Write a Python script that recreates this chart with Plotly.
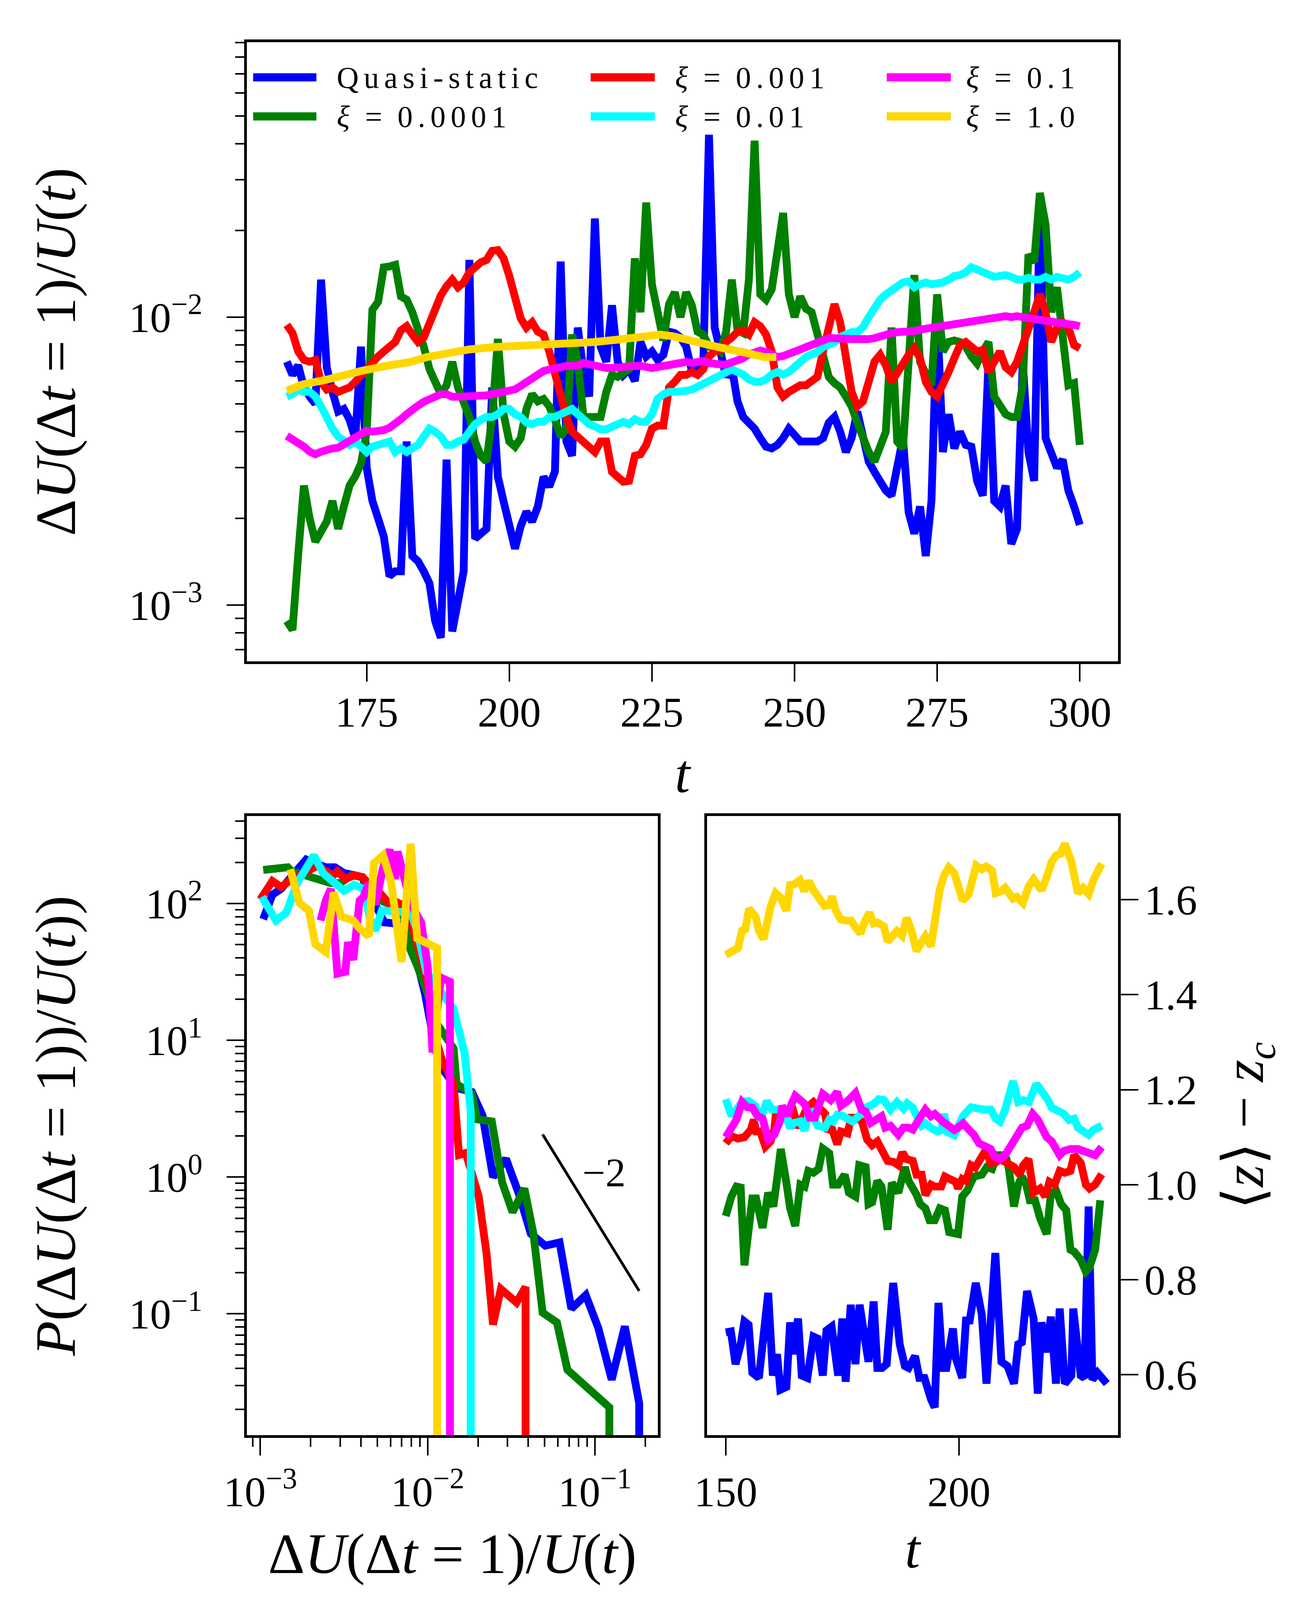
import math

import plotly.graph_objects as go

# ---------------------------------------------------------------
# datos
# ---------------------------------------------------------------
COLORES = {
    "qs": "#0000ff",
    "1e-4": "#008000",
    "1e-3": "#ff0000",
    "1e-2": "#00ffff",
    "1e-1": "#ff00ff",
    "1e0": "#ffd700",
}
ORDEN = ["qs", "1e-4", "1e-3", "1e-2", "1e-1", "1e0"]

# panel superior: dU(dt=1)/U(t) vs t
T_TOP = list(range(161, 301))

DU_QS = [
    7.0e-3, 6.3e-3, 6.8e-3, 5.7e-3, 5.3e-3, 5.0e-3, 1.35e-2, 6.7e-3, 5.5e-3, 4.7e-3,
    4.8e-3, 4.4e-3, 3.8e-3, 7.9e-3, 3.0e-3, 2.3e-3, 2.0e-3, 1.73e-3, 1.26e-3, 1.31e-3,
    1.31e-3, 3.7e-3, 1.48e-3, 1.42e-3, 1.31e-3, 1.19e-3, 8.8e-4, 7.7e-4, 3.2e-3, 8.1e-4,
    1.03e-3, 1.31e-3, 1.58e-2, 1.70e-3, 1.77e-3, 1.84e-3, 5.7e-3, 2.79e-3, 2.29e-3, 1.95e-3,
    1.57e-3, 1.88e-3, 2.11e-3, 1.95e-3, 2.20e-3, 2.79e-3, 2.58e-3, 2.91e-3, 1.56e-2, 3.7e-3,
    3.3e-3, 9.2e-3, 6.5e-3, 5.3e-3, 2.2e-2, 7.9e-3, 7.0e-3, 1.1e-2, 7.0e-3, 6.3e-3,
    6.6e-3, 6.0e-3, 8.2e-3, 7.3e-3, 7.6e-3, 7.1e-3, 7.4e-3, 8.9e-3, 8.8e-3, 8.5e-3,
    7.9e-3, 6.5e-3, 6.6e-3, 6.8e-3, 4.3e-2, 9.2e-3, 7.6e-3, 6.2e-3, 6.7e-3, 5.1e-3,
    4.5e-3, 4.3e-3, 4.1e-3, 3.8e-3, 3.55e-3, 3.5e-3, 3.6e-3, 3.8e-3, 4.1e-3, 3.9e-3,
    3.7e-3, 3.7e-3, 3.7e-3, 3.7e-3, 3.8e-3, 4.3e-3, 4.5e-3, 4.0e-3, 3.4e-3, 3.8e-3,
    4.7e-3, 3.7e-3, 3.15e-3, 2.9e-3, 2.7e-3, 2.5e-3, 2.4e-3, 3.0e-3, 3.8e-3, 2.1e-3,
    1.77e-3, 2.2e-3, 1.48e-3, 2.3e-3, 1.04e-2, 3.4e-3, 4.6e-3, 3.5e-3, 4.0e-3, 3.6e-3,
    3.55e-3, 2.7e-3, 2.4e-3, 7.0e-3, 2.3e-3, 2.2e-3, 2.6e-3, 1.63e-3, 1.84e-3, 7.0e-3,
    3.4e-3, 2.7e-3, 2.4e-2, 3.8e-3, 3.4e-3, 3.0e-3, 3.2e-3, 2.5e-3, 2.2e-3, 1.9e-3,
]
DU_1E4 = [
    8.8e-4, 8.2e-4, 1.5e-3, 2.6e-3, 2.0e-3, 1.66e-3, 1.8e-3, 1.95e-3, 2.3e-3, 1.84e-3,
    2.2e-3, 2.6e-3, 2.8e-3, 3.1e-3, 4.0e-3, 1.06e-2, 1.13e-2, 1.49e-2, 1.50e-2, 1.52e-2,
    1.18e-2, 1.15e-2, 1.04e-2, 9.2e-3, 7.9e-3, 6.6e-3, 6.0e-3, 5.4e-3, 5.8e-3, 7.0e-3,
    5.7e-3, 5.1e-3, 4.5e-3, 3.7e-3, 3.3e-3, 3.15e-3, 4.5e-3, 8.4e-3, 4.6e-3, 3.7e-3,
    3.55e-3, 3.8e-3, 4.8e-3, 5.4e-3, 5.1e-3, 5.2e-3, 4.9e-3, 4.4e-3, 3.85e-3, 4.1e-3,
    8.7e-3, 7.0e-3, 4.5e-3, 4.5e-3, 4.5e-3, 4.5e-3, 5.5e-3, 6.3e-3, 6.2e-3, 6.45e-3,
    6.6e-3, 1.6e-2, 1.04e-2, 2.5e-2, 1.3e-2, 1.04e-2, 8.3e-3, 1.11e-2, 1.22e-2, 1.0e-2,
    1.22e-2, 1.1e-2, 8.9e-3, 8.7e-3, 7.9e-3, 7.9e-3, 7.6e-3, 8.9e-3, 1.35e-2, 9.0e-3,
    8.8e-3, 1.35e-2, 4.1e-2, 1.2e-2, 1.15e-2, 1.25e-2, 1.65e-2, 2.3e-2, 1.2e-2, 1.0e-2,
    1.18e-2, 1.07e-2, 1.04e-2, 8.8e-3, 7.3e-3, 6.2e-3, 5.9e-3, 5.7e-3, 5.3e-3, 4.9e-3,
    4.3e-3, 3.8e-3, 3.4e-3, 3.15e-3, 3.5e-3, 4.0e-3, 9.2e-3, 3.7e-3, 3.5e-3, 7.0e-3,
    1.4e-2, 7.0e-3, 6.3e-3, 5.8e-3, 1.2e-2, 7.6e-3, 8.2e-3, 8.3e-3, 8.2e-3, 7.9e-3,
    7.3e-3, 6.9e-3, 7.6e-3, 8.2e-3, 5.3e-3, 4.9e-3, 4.6e-3, 4.5e-3, 4.5e-3, 5.8e-3,
    1.65e-2, 1.55e-2, 2.7e-2, 2.1e-2, 1.04e-2, 1.27e-2, 8.9e-3, 5.8e-3, 5.9e-3, 3.6e-3,
]
DU_1E3 = [
    9.4e-3, 8.8e-3, 7.6e-3, 7.1e-3, 7.0e-3, 7.1e-3, 5.96e-3, 5.6e-3, 5.7e-3, 5.5e-3,
    5.6e-3, 5.7e-3, 5.96e-3, 6.3e-3, 6.5e-3, 7.0e-3, 7.3e-3, 7.6e-3, 7.9e-3, 8.2e-3,
    9.0e-3, 9.3e-3, 8.7e-3, 8.2e-3, 8.5e-3, 9.6e-3, 1.08e-2, 1.19e-2, 1.28e-2, 1.35e-2,
    1.27e-2, 1.32e-2, 1.43e-2, 1.50e-2, 1.55e-2, 1.58e-2, 1.70e-2, 1.71e-2, 1.6e-2, 1.39e-2,
    1.17e-2, 9.9e-3, 9.2e-3, 9.6e-3, 8.9e-3, 8.7e-3, 7.6e-3, 6.3e-3, 5.5e-3, 4.5e-3,
    4.0e-3, 3.85e-3, 3.7e-3, 3.55e-3, 3.4e-3, 3.7e-3, 3.7e-3, 2.9e-3, 2.8e-3, 2.68e-3,
    2.7e-3, 3.3e-3, 3.34e-3, 3.6e-3, 4.1e-3, 4.2e-3, 4.2e-3, 5.7e-3, 5.96e-3, 6.3e-3,
    6.3e-3, 6.45e-3, 6.3e-3, 6.6e-3, 7.3e-3, 7.6e-3, 7.7e-3, 8.2e-3, 8.5e-3, 8.9e-3,
    9.0e-3, 8.7e-3, 9.6e-3, 9.3e-3, 8.7e-3, 7.6e-3, 5.7e-3, 5.3e-3, 5.5e-3, 5.7e-3,
    5.8e-3, 5.8e-3, 5.96e-3, 6.2e-3, 7.6e-3, 9.2e-3, 1.11e-2, 9.6e-3, 7.3e-3, 5.5e-3,
    4.9e-3, 5.1e-3, 5.96e-3, 7.0e-3, 7.4e-3, 6.8e-3, 5.96e-3, 6.45e-3, 7.0e-3, 7.4e-3,
    7.8e-3, 7.2e-3, 5.96e-3, 5.5e-3, 5.3e-3, 5.96e-3, 6.45e-3, 7.2e-3, 8.0e-3, 8.2e-3,
    7.9e-3, 7.6e-3, 7.7e-3, 6.45e-3, 7.0e-3, 7.6e-3, 6.7e-3, 6.45e-3, 7.0e-3, 7.9e-3,
    8.9e-3, 1.04e-2, 1.2e-2, 1.04e-2, 8.2e-3, 9.2e-3, 9.6e-3, 9.2e-3, 8.0e-3, 7.8e-3,
]
DU_1E2 = [
    5.3e-3, 5.4e-3, 5.6e-3, 5.5e-3, 5.5e-3, 5.3e-3, 4.9e-3, 4.4e-3, 4.1e-3, 3.85e-3,
    3.7e-3, 3.6e-3, 3.7e-3, 3.55e-3, 3.4e-3, 3.55e-3, 3.6e-3, 3.7e-3, 3.7e-3, 3.4e-3,
    3.5e-3, 3.4e-3, 3.5e-3, 3.6e-3, 3.85e-3, 4.1e-3, 4.0e-3, 3.85e-3, 3.6e-3, 3.6e-3,
    3.7e-3, 3.75e-3, 4.0e-3, 4.25e-3, 4.4e-3, 4.5e-3, 4.5e-3, 4.6e-3, 4.8e-3, 4.8e-3,
    4.6e-3, 4.5e-3, 4.3e-3, 4.25e-3, 4.33e-3, 4.33e-3, 4.5e-3, 4.5e-3, 4.6e-3, 4.7e-3,
    4.8e-3, 4.6e-3, 4.4e-3, 4.25e-3, 4.17e-3, 4.08e-3, 4.08e-3, 4.17e-3, 4.25e-3, 4.33e-3,
    4.25e-3, 4.42e-3, 4.33e-3, 4.33e-3, 4.6e-3, 5.2e-3, 5.4e-3, 5.5e-3, 5.5e-3, 5.5e-3,
    5.55e-3, 5.6e-3, 5.73e-3, 5.84e-3, 5.96e-3, 6.08e-3, 6.2e-3, 6.45e-3, 6.58e-3, 6.45e-3,
    6.32e-3, 6.08e-3, 5.96e-3, 5.96e-3, 6.08e-3, 6.32e-3, 6.45e-3, 6.32e-3, 6.45e-3, 6.71e-3,
    6.99e-3, 7.27e-3, 7.42e-3, 7.56e-3, 7.87e-3, 8.03e-3, 8.19e-3, 8.53e-3, 8.7e-3, 8.87e-3,
    8.87e-3, 9.23e-3, 1.0e-2, 1.08e-2, 1.15e-2, 1.2e-2, 1.24e-2, 1.30e-2, 1.32e-2, 1.33e-2,
    1.27e-2, 1.30e-2, 1.32e-2, 1.30e-2, 1.30e-2, 1.32e-2, 1.35e-2, 1.39e-2, 1.40e-2, 1.43e-2,
    1.49e-2, 1.46e-2, 1.43e-2, 1.39e-2, 1.38e-2, 1.39e-2, 1.40e-2, 1.38e-2, 1.35e-2, 1.35e-2,
    1.37e-2, 1.35e-2, 1.35e-2, 1.38e-2, 1.35e-2, 1.38e-2, 1.36e-2, 1.35e-2, 1.38e-2, 1.43e-2,
]
DU_1E1 = [
    3.87e-3, 3.77e-3, 3.7e-3, 3.55e-3, 3.41e-3, 3.34e-3, 3.41e-3, 3.48e-3, 3.5e-3, 3.52e-3,
    3.62e-3, 3.77e-3, 3.87e-3, 3.97e-3, 4.03e-3, 4.0e-3, 4.0e-3, 4.05e-3, 4.13e-3, 4.25e-3,
    4.42e-3, 4.6e-3, 4.79e-3, 4.93e-3, 5.08e-3, 5.18e-3, 5.29e-3, 5.4e-3, 5.4e-3, 5.29e-3,
    5.29e-3, 5.29e-3, 5.29e-3, 5.29e-3, 5.29e-3, 5.35e-3, 5.4e-3, 5.45e-3, 5.5e-3, 5.5e-3,
    5.61e-3, 5.77e-3, 5.96e-3, 6.15e-3, 6.32e-3, 6.5e-3, 6.58e-3, 6.66e-3, 6.71e-3, 6.77e-3,
    6.77e-3, 6.79e-3, 6.93e-3, 6.85e-3, 6.77e-3, 6.71e-3, 6.66e-3, 6.66e-3, 6.71e-3, 6.71e-3,
    6.71e-3, 6.77e-3, 6.77e-3, 6.71e-3, 6.66e-3, 6.71e-3, 6.77e-3, 6.85e-3, 6.9e-3, 6.93e-3,
    6.99e-3, 6.93e-3, 6.99e-3, 7.04e-3, 6.93e-3, 6.85e-3, 6.85e-3, 6.85e-3, 6.93e-3, 7.04e-3,
    7.2e-3, 7.42e-3, 7.56e-3, 7.66e-3, 7.56e-3, 7.42e-3, 7.27e-3, 7.33e-3, 7.42e-3, 7.56e-3,
    7.72e-3, 7.87e-3, 8.03e-3, 8.19e-3, 8.36e-3, 8.45e-3, 8.45e-3, 8.39e-3, 8.36e-3, 8.39e-3,
    8.39e-3, 8.36e-3, 8.39e-3, 8.45e-3, 8.59e-3, 8.7e-3, 8.8e-3, 8.87e-3, 8.87e-3, 8.87e-3,
    8.94e-3, 9.05e-3, 9.12e-3, 9.12e-3, 9.23e-3, 9.31e-3, 9.42e-3, 9.42e-3, 9.5e-3, 9.61e-3,
    9.69e-3, 9.76e-3, 9.8e-3, 9.88e-3, 1.0e-2, 1.008e-2, 1.008e-2, 1.0e-2, 1.008e-2, 1.0e-2,
    9.92e-3, 9.8e-3, 9.73e-3, 9.61e-3, 9.61e-3, 9.53e-3, 9.5e-3, 9.45e-3, 9.4e-3, 9.3e-3,
]
T_TOP_1E0 = [161, 163.8, 168.2, 171.1, 174, 178.4, 182.7, 185.6, 188.6, 192.9, 197.3, 201.7,
             206.0, 210.4, 214.8, 219.1, 223.5, 226.4, 228.6, 232.3, 236.6, 241.0, 244.6, 246.8]
DU_1E0 = [5.55e-3, 5.84e-3, 6.08e-3, 6.32e-3, 6.5e-3, 6.77e-3, 6.99e-3, 7.27e-3, 7.47e-3,
          7.72e-3, 7.87e-3, 7.94e-3, 7.97e-3, 8.1e-3, 8.19e-3, 8.36e-3, 8.59e-3, 8.7e-3,
          8.59e-3, 8.19e-3, 7.87e-3, 7.56e-3, 7.27e-3, 7.27e-3]

# panel inferior izquierdo: P(dU/U); los bins vacios caen fuera del eje
VACIO = 1e-4
PX_QS = [1.04e-3, 1.18e-3, 1.33e-3, 1.57e-3, 1.88e-3, 2.13e-3, 2.46e-3, 2.79e-3, 3.16e-3,
         3.65e-3, 4.07e-3, 4.29e-3, 4.96e-3, 5.52e-3, 6.15e-3, 6.73e-3, 7.91e-3, 8.66e-3,
         9.64e-3, 1.04e-2, 1.11e-2, 1.22e-2, 1.33e-2, 1.49e-2, 1.84e-2, 2.13e-2, 2.46e-2,
         2.94e-2, 3.52e-2, 4.14e-2, 5.05e-2, 6.15e-2, 7.23e-2, 8.82e-2, 0.105, 0.126, 0.151,
         0.184, 0.184]
PY_QS = [76.7, 116, 128, 161, 210, 197, 184, 184, 167, 161, 156, 132, 91.8, 72.8, 71.8, 70.3,
         52.2, 37.4, 22.0, 12.9, 8.69, 6.23, 5.28, 4.48, 4.19, 2.82, 1.0, 1.36, 0.747, 0.385,
         0.315, 0.333, 0.109, 0.137, 0.0782, 0.033, 0.081, 0.0222, VACIO]
PX_1E4 = [1.04e-3, 1.24e-3, 1.46e-3, 1.54e-3, 2.21e-3, 2.64e-3, 3.0e-3, 3.52e-3, 4.07e-3,
          4.53e-3, 4.96e-3, 6.04e-3, 6.98e-3, 7.91e-3, 8.66e-3, 1.0e-2, 1.11e-2, 1.43e-2,
          1.49e-2, 1.84e-2, 1.98e-2, 2.42e-2, 2.79e-2, 3.22e-2, 3.79e-2, 4.29e-2, 4.87e-2,
          5.93e-2, 6.85e-2, 0.122, 0.122]
PY_1E4 = [176, 178, 184, 172, 151, 141, 141, 161, 156, 137, 108, 98, 94.8, 45.7, 35.1, 22.0,
          13.8, 8.69, 4.79, 4.06, 2.64, 2.55, 0.912, 0.554, 0.824, 0.385, 0.102, 0.0865,
          0.039, 0.0207, VACIO]
PX_1E3 = [1.0e-3, 1.18e-3, 1.33e-3, 1.49e-3, 1.91e-3, 2.21e-3, 2.46e-3, 2.74e-3, 2.89e-3,
          3.22e-3, 3.65e-3, 4.07e-3, 4.53e-3, 5.05e-3, 5.84e-3, 6.27e-3, 6.98e-3, 7.64e-3,
          8.35e-3, 1.0e-2, 1.11e-2, 1.22e-2, 1.43e-2, 1.54e-2, 1.69e-2, 2.02e-2, 2.25e-2,
          2.46e-2, 2.74e-2, 3.40e-2, 3.85e-2, 3.85e-2]
PY_1E3 = [107, 146, 132, 146, 172, 190, 172, 161, 172, 151, 161, 156, 132, 124, 101, 105, 98,
          83, 59.5, 26.8, 10.6, 7.13, 4.79, 1.45, 1.50, 0.723, 0.276, 0.0835, 0.152, 0.121,
          0.157, VACIO]
PX_1E2 = [1.02e-3, 1.24e-3, 1.43e-3, 1.66e-3, 2.09e-3, 2.37e-3, 2.69e-3, 3.16e-3, 3.65e-3,
          4.14e-3, 4.53e-3, 4.87e-3, 5.33e-3, 6.73e-3, 7.91e-3, 8.66e-3, 9.82e-3, 1.43e-2,
          1.66e-2, 1.81e-2, 1.81e-2]
PY_1E2 = [112, 75.2, 85.9, 141, 225, 167, 146, 124, 137, 128, 77.6, 63.7, 88.8, 85.9, 85.9,
          63.7, 31.7, 16.9, 8.15, 3.01, VACIO]
PX_1E1 = [2.29e-3, 2.46e-3, 2.64e-3, 2.89e-3, 3.22e-3, 3.34e-3, 3.59e-3, 3.92e-3, 4.14e-3,
          4.45e-3, 4.87e-3, 5.42e-3, 5.93e-3, 6.38e-3, 6.61e-3, 7.23e-3, 7.91e-3, 8.35e-3,
          9.14e-3, 1.0e-2, 1.07e-2, 1.20e-2, 1.36e-2, 1.36e-2]
PY_1E1 = [75.2, 105, 128, 30.7, 31.7, 52.2, 38.7, 105, 112, 141, 98, 184, 248, 151, 240, 146,
          101, 88.8, 72.8, 35.1, 8.15, 28.7, 26.8, VACIO]
PX_1E0 = [1.51e-3, 1.71e-3, 1.95e-3, 2.13e-3, 2.46e-3, 2.74e-3, 3.05e-3, 3.59e-3, 3.92e-3,
          4.45e-3, 4.78e-3, 5.42e-3, 6.04e-3, 6.98e-3, 7.91e-3, 8.66e-3, 1.14e-2, 1.14e-2]
PY_1E0 = [178, 101, 88.8, 50.5, 44.3, 120, 80.3, 75.2, 65.8, 57.6, 197, 225, 146, 37.4, 274,
          55.7, 47.2, VACIO]

# recta de referencia con pendiente -2
PEND_X = [4.87e-2, 0.184]
PEND_Y = [2.05, 0.147]
PEND_TXT_X = 0.1135
PEND_TXT_Y = 1.08

# panel inferior derecho: <z> - z_c vs t
TZ_QS = [150.0, 151.1, 152.1, 153.2, 154.0, 154.9, 155.7, 157.1, 157.9, 159.1, 160.1, 161.0,
         161.7, 163.0, 163.8, 164.5, 165.5, 166.3, 167.5, 168.8, 169.7, 170.8, 171.6, 172.7,
         174.1, 175.0, 175.7, 176.8, 177.8, 178.7, 180.6, 181.7, 182.5, 183.5, 184.5, 185.3,
         185.9, 187.3, 188.4, 189.2, 190.6, 191.5, 192.6, 194.0, 194.8, 195.6, 196.5, 197.3,
         198.7, 199.3, 200.7, 201.5, 202.3, 203.6, 204.9, 205.9, 206.8, 207.8, 209.1, 210.4,
         211.8, 212.7, 213.5, 214.6, 216.0, 216.9, 217.7, 218.8, 219.7, 220.8, 221.6, 222.7,
         224.1, 224.5, 226.1, 226.9, 227.8, 228.6, 229.7, 231.7]
Z_QS = [0.689, 0.691, 0.622, 0.664, 0.712, 0.705, 0.604, 0.593, 0.664, 0.772, 0.598, 0.643,
        0.568, 0.574, 0.710, 0.643, 0.718, 0.598, 0.593, 0.680, 0.676, 0.598, 0.693, 0.701,
        0.598, 0.718, 0.585, 0.747, 0.622, 0.747, 0.627, 0.754, 0.614, 0.614, 0.622, 0.747,
        0.793, 0.664, 0.618, 0.614, 0.639, 0.593, 0.593, 0.548, 0.531, 0.751, 0.614, 0.614,
        0.697, 0.635, 0.593, 0.714, 0.714, 0.793, 0.726, 0.581, 0.697, 0.856, 0.627, 0.618,
        0.581, 0.664, 0.668, 0.776, 0.718, 0.560, 0.710, 0.647, 0.722, 0.581, 0.739, 0.581,
        0.598, 0.739, 0.598, 0.593, 0.954, 0.589, 0.604, 0.581]
TZ_1E4 = [150.0, 151.2, 152.3, 153.2, 154.0, 154.9, 155.7, 156.5, 157.9, 159.1, 160.2, 161.0,
          161.8, 163.0, 163.8, 164.9, 166.0, 166.9, 167.7, 168.8, 169.9, 170.8, 172.2, 173.0,
          174.1, 175.5, 176.4, 177.8, 178.6, 180.0, 180.6, 181.4, 182.5, 183.4, 184.7, 185.6,
          187.0, 188.4, 189.2, 190.9, 191.7, 192.8, 193.7, 194.8, 195.9, 197.0, 197.9, 199.8,
          200.7, 201.8, 203.2, 204.9, 206.0, 207.1, 208.2, 209.1, 210.2, 210.7, 211.8, 212.7,
          213.5, 214.4, 215.2, 216.3, 217.4, 218.8, 219.7, 220.8, 221.9, 223.0, 223.9, 224.7,
          226.1, 227.2, 228.0, 229.2, 230.3]
Z_1E4 = [0.934, 0.975, 0.996, 0.994, 0.830, 0.905, 0.971, 0.971, 0.909, 0.983, 0.954, 1.012,
         1.075, 1.004, 0.950, 0.913, 1.000, 0.996, 1.029, 1.025, 1.033, 1.076, 1.066, 1.000,
         1.000, 1.021, 0.983, 0.975, 1.041, 1.037, 0.959, 0.963, 1.008, 0.996, 0.905, 1.004,
         0.983, 1.037, 1.008, 0.979, 0.959, 0.950, 0.925, 0.925, 0.950, 0.946, 0.900, 0.896,
         0.975, 0.988, 1.017, 1.021, 1.037, 1.033, 1.062, 1.062, 1.054, 1.033, 0.954, 1.000,
         1.017, 1.000, 0.967, 0.967, 0.929, 0.896, 0.979, 0.988, 0.959, 0.946, 0.863, 0.859,
         0.842, 0.817, 0.826, 0.863, 0.967]
TZ_1E3 = [150.0, 151.2, 152.6, 154.0, 155.4, 156.0, 156.5, 157.4, 158.5, 159.6, 160.4, 160.7,
          162.1, 163.2, 164.4, 165.5, 166.3, 167.4, 168.8, 170.2, 171.3, 171.9, 172.7, 173.9,
          174.7, 176.1, 176.9, 178.0, 179.2, 180.3, 181.4, 182.5, 183.6, 184.7, 185.9, 187.0,
          187.9, 188.7, 190.1, 190.9, 192.0, 192.8, 194.0, 194.8, 196.2, 197.0, 198.2, 199.3,
          199.8, 200.7, 201.5, 202.6, 203.5, 204.9, 205.7, 206.8, 207.9, 208.8, 210.4, 211.8,
          213.0, 213.8, 214.9, 216.0, 217.4, 218.5, 219.4, 220.5, 221.6, 222.7, 223.9, 224.7,
          226.1, 227.2, 228.0, 229.2, 230.6]
Z_1E3 = [1.087, 1.102, 1.097, 1.100, 1.116, 1.137, 1.112, 1.112, 1.080, 1.091, 1.116, 1.145,
         1.141, 1.154, 1.158, 1.120, 1.137, 1.162, 1.174, 1.162, 1.149, 1.112, 1.120, 1.085,
         1.112, 1.108, 1.141, 1.141, 1.133, 1.095, 1.083, 1.091, 1.066, 1.050, 1.048, 1.041,
         1.068, 1.054, 1.050, 1.021, 1.021, 0.978, 1.000, 0.996, 0.996, 1.017, 1.011, 1.006,
         0.992, 1.012, 1.008, 1.041, 1.036, 1.058, 1.072, 1.046, 1.047, 1.054, 1.046, 1.037,
         1.021, 1.041, 1.054, 0.983, 0.992, 0.975, 1.006, 1.000, 1.029, 1.025, 1.029, 1.062,
         1.046, 1.000, 0.992, 1.000, 1.022]
TZ_1E2 = [150.0, 151.2, 152.3, 153.5, 154.9, 156.3, 157.4, 157.9, 158.8, 159.9, 161.3, 162.4,
          163.8, 164.6, 166.0, 166.9, 168.0, 169.7, 171.3, 172.2, 173.0, 173.9, 175.0, 176.1,
          177.2, 178.6, 180.0, 181.7, 182.8, 183.9, 185.3, 186.7, 188.1, 188.9, 190.1, 192.0,
          192.8, 194.2, 195.4, 196.2, 196.8, 197.6, 199.0, 199.8, 200.9, 202.6, 204.3, 205.4,
          206.8, 207.9, 208.8, 209.9, 211.6, 212.7, 213.8, 215.0, 216.6, 218.0, 219.1, 219.9,
          221.3, 222.5, 223.6, 224.7, 225.5, 227.8, 228.9, 230.6]
Z_1E2 = [1.180, 1.145, 1.158, 1.174, 1.176, 1.166, 1.137, 1.149, 1.176, 1.158, 1.158, 1.158,
         1.120, 1.130, 1.133, 1.114, 1.158, 1.124, 1.120, 1.137, 1.133, 1.147, 1.145, 1.141,
         1.133, 1.145, 1.162, 1.170, 1.180, 1.178, 1.158, 1.174, 1.160, 1.171, 1.162, 1.124,
         1.129, 1.118, 1.112, 1.115, 1.149, 1.110, 1.104, 1.122, 1.145, 1.163, 1.158, 1.158,
         1.158, 1.139, 1.133, 1.158, 1.218, 1.174, 1.178, 1.174, 1.212, 1.195, 1.178, 1.162,
         1.154, 1.149, 1.136, 1.139, 1.120, 1.105, 1.116, 1.124]
TZ_1E1 = [150.0, 151.2, 152.3, 153.5, 154.6, 155.7, 156.8, 157.9, 159.1, 160.4, 161.6, 162.1,
          163.2, 164.1, 164.9, 166.0, 166.9, 168.0, 169.1, 170.8, 172.5, 173.9, 174.7, 176.1,
          177.8, 179.1, 180.0, 181.1, 182.5, 183.4, 184.2, 185.3, 187.0, 188.1, 189.2, 190.1,
          190.9, 191.7, 192.8, 194.0, 194.8, 196.5, 197.6, 199.0, 199.8, 200.9, 202.1, 203.2,
          204.3, 206.0, 206.8, 207.7, 208.8, 209.9, 211.0, 212.1, 213.5, 214.6, 215.8, 216.9,
          217.7, 218.8, 219.9, 221.6, 222.5, 223.9, 225.5, 226.6, 228.3, 229.2, 230.6]
Z_1E1 = [1.100, 1.120, 1.137, 1.174, 1.163, 1.162, 1.145, 1.139, 1.095, 1.105, 1.133, 1.166,
         1.145, 1.170, 1.187, 1.178, 1.170, 1.141, 1.141, 1.191, 1.178, 1.195, 1.166, 1.176,
         1.193, 1.158, 1.154, 1.130, 1.137, 1.144, 1.120, 1.124, 1.105, 1.120, 1.120, 1.116,
         1.129, 1.145, 1.158, 1.144, 1.149, 1.133, 1.124, 1.115, 1.120, 1.129, 1.116, 1.105,
         1.087, 1.079, 1.075, 1.058, 1.054, 1.062, 1.079, 1.100, 1.120, 1.124, 1.149, 1.137,
         1.124, 1.100, 1.091, 1.062, 1.071, 1.075, 1.075, 1.071, 1.061, 1.062, 1.079]
TZ_1E0 = [150.0, 152.6, 153.5, 154.2, 155.0, 156.4, 157.1, 158.1, 158.8, 159.6, 160.7, 161.8,
          163.0, 163.8, 164.6, 165.9, 166.8, 167.8, 168.8, 170.2, 171.2, 172.2, 172.8, 173.6,
          174.6, 175.8, 176.9, 177.8, 178.9, 179.7, 180.8, 181.7, 182.5, 183.9, 184.7, 185.9,
          186.7, 187.8, 188.8, 189.8, 190.9, 191.9, 192.8, 194.0, 195.3, 195.9, 196.8, 197.8,
          199.0, 199.8, 200.8, 202.1, 203.7, 204.9, 205.8, 207.1, 207.9, 209.1, 209.9, 211.6,
          212.4, 213.7, 214.9, 216.0, 217.7, 218.8, 219.9, 220.8, 221.8, 222.7, 224.1, 225.5,
          226.6, 227.8, 228.9, 230.6]
Z_1E0 = [1.484, 1.498, 1.535, 1.538, 1.581, 1.564, 1.535, 1.517, 1.548, 1.585, 1.614, 1.604,
         1.577, 1.631, 1.632, 1.641, 1.618, 1.639, 1.620, 1.602, 1.587, 1.589, 1.607, 1.577,
         1.559, 1.556, 1.556, 1.542, 1.529, 1.552, 1.573, 1.550, 1.552, 1.544, 1.512, 1.525,
         1.534, 1.524, 1.562, 1.535, 1.492, 1.509, 1.523, 1.502, 1.593, 1.622, 1.651, 1.668,
         1.656, 1.627, 1.598, 1.612, 1.672, 1.664, 1.670, 1.661, 1.614, 1.618, 1.625, 1.602,
         1.606, 1.593, 1.627, 1.643, 1.620, 1.647, 1.680, 1.693, 1.697, 1.718, 1.680, 1.614,
         1.625, 1.612, 1.643, 1.676]

TICKS_T_TOP = [175, 200, 225, 250, 275, 300]
TICKS_T_BOT = [150, 200]
TICKS_Z = [0.6, 0.8, 1.0, 1.2, 1.4, 1.6]

# ---------------------------------------------------------------
SP = "\u2006"   # espacio estrecho, imita el espaciado de la leyenda original
EN = "\u2002"
FUENTE = "Liberation Serif"
ANCHO_LINEA = 20


def potencia(v):
    e = int(round(math.log10(v)))
    return "10<sup>" + str(e).replace("-", "\u2212") + "</sup>"


def menores(exp_min, exp_max):
    return [m * 10.0 ** e for e in range(exp_min, exp_max + 1) for m in range(2, 10)]


def etiqueta_xi(valor):
    return "<i>\u03be</i>" + EN + "=" + EN + SP.join(valor)


ETIQUETAS = {
    "qs": SP.join("Quasi-static"),
    "1e-4": etiqueta_xi("0.0001"),
    "1e-3": etiqueta_xi("0.001"),
    "1e-2": etiqueta_xi("0.01"),
    "1e-1": etiqueta_xi("0.1"),
    "1e0": etiqueta_xi("1.0"),
}

TOP = {
    "qs": (T_TOP, DU_QS), "1e-4": (T_TOP, DU_1E4), "1e-3": (T_TOP, DU_1E3),
    "1e-2": (T_TOP, DU_1E2), "1e-1": (T_TOP, DU_1E1), "1e0": (T_TOP_1E0, DU_1E0),
}
HIST = {
    "qs": (PX_QS, PY_QS), "1e-4": (PX_1E4, PY_1E4), "1e-3": (PX_1E3, PY_1E3),
    "1e-2": (PX_1E2, PY_1E2), "1e-1": (PX_1E1, PY_1E1), "1e0": (PX_1E0, PY_1E0),
}
ZPAN = {
    "qs": (TZ_QS, Z_QS), "1e-4": (TZ_1E4, Z_1E4), "1e-3": (TZ_1E3, Z_1E3),
    "1e-2": (TZ_1E2, Z_1E2), "1e-1": (TZ_1E1, Z_1E1), "1e0": (TZ_1E0, Z_1E0),
}

fig = go.Figure()

for clave in ORDEN:
    linea = dict(color=COLORES[clave], width=ANCHO_LINEA)
    x, y = TOP[clave]
    fig.add_trace(go.Scatter(x=x, y=y, mode="lines", line=linea, name=ETIQUETAS[clave],
                             xaxis="x", yaxis="y", showlegend=False))
    x, y = HIST[clave]
    fig.add_trace(go.Scatter(x=x, y=y, mode="lines", line=linea, name=ETIQUETAS[clave],
                             xaxis="x2", yaxis="y2", showlegend=False))
    x, y = ZPAN[clave]
    fig.add_trace(go.Scatter(x=x, y=y, mode="lines", line=linea, name=ETIQUETAS[clave],
                             xaxis="x3", yaxis="y3", showlegend=False))

fig.add_trace(go.Scatter(x=PEND_X, y=PEND_Y, mode="lines", line=dict(color="black", width=7),
                         xaxis="x2", yaxis="y2", showlegend=False, hoverinfo="skip"))

ejes = dict(
    showline=True, linecolor="black", linewidth=7, mirror=True,
    ticks="outside", ticklen=45, tickwidth=4, tickcolor="black",
    showgrid=False, zeroline=False,
    tickfont=dict(family=FUENTE, size=108, color="black"),
)
menor = dict(ticks="outside", ticklen=23, tickwidth=4, tickcolor="black", showgrid=False)
fuente_titulo = dict(family=FUENTE, size=146, color="black")
fuente_t = dict(family=FUENTE, size=140, color="black")

titulo_du = "\u0394<i>U</i>(\u0394<i>t</i> = 1)/<i>U</i>(<i>t</i>)"
titulo_p = "<i>P</i>(\u0394<i>U</i>(\u0394<i>t</i> = 1))/<i>U</i>(<i>t</i>))"

fig.update_layout(
    width=3333, height=4137,
    margin=dict(l=624, r=479, t=100, b=471),
    paper_bgcolor="white", plot_bgcolor="white",
    font=dict(family=FUENTE, color="black"),
    xaxis=dict(ejes, domain=[0, 1], anchor="y", range=[154.0, 306.7],
               tickmode="array", tickvals=TICKS_T_TOP, ticklabelstandoff=-15,
               title=dict(text="<i>t</i>", font=fuente_t, standoff=50)),
    yaxis=dict(ejes, domain=[0.5554, 1], anchor="x", type="log", range=[-3.196, -1.045],
               tickmode="array", tickvals=[1e-3, 1e-2],
               ticktext=[potencia(1e-3), potencia(1e-2)], ticklabelstandoff=40,
               minor=dict(menor, tickvals=menores(-4, -2)),
               title=dict(text=titulo_du, font=fuente_titulo, standoff=90)),
    xaxis2=dict(ejes, domain=[0, 0.4717], anchor="y2", type="log", range=[-3.0805, -0.624],
                tickmode="array", tickvals=[1e-3, 1e-2, 1e-1],
                ticktext=[potencia(1e-3), potencia(1e-2), potencia(1e-1)], ticklabelstandoff=0,
                minor=dict(menor, tickvals=menores(-4, -1)),
                title=dict(text=titulo_du, font=fuente_titulo, standoff=50)),
    yaxis2=dict(ejes, domain=[0, 0.4444], anchor="x2", type="log", range=[-1.887, 2.639],
                tickmode="array", tickvals=[0.1, 1, 10, 100],
                ticktext=[potencia(0.1), potencia(1), potencia(10), potencia(100)],
                ticklabelstandoff=40,
                minor=dict(menor, tickvals=menores(-2, 2)),
                title=dict(text=titulo_p, font=fuente_titulo, standoff=90)),
    xaxis3=dict(ejes, domain=[0.5283, 1], anchor="y3", range=[146.0, 234.1],
                tickmode="array", tickvals=TICKS_T_BOT, ticklabelstandoff=0,
                title=dict(text="<i>t</i>", font=fuente_t, standoff=40)),
    yaxis3=dict(ejes, domain=[0, 0.4444], anchor="x3", side="right", range=[0.4725, 1.776],
                tickmode="array", tickvals=TICKS_Z, tickformat=".1f", ticklabelstandoff=-6,
                title=dict(text="\u27e8<i>z</i>\u27e9 \u2212 <i>z</i><sub><i>c</i></sub>",
                           font=fuente_titulo, standoff=70)),
)

# etiqueta de la pendiente
fig.add_annotation(x=math.log10(PEND_TXT_X), y=math.log10(PEND_TXT_Y), xref="x2", yref="y2",
                   text="\u22122", showarrow=False, xanchor="center", yanchor="middle",
                   font=dict(family=FUENTE, size=104, color="black"))

# leyenda en tres columnas dentro del panel superior
COL_LINEA = [(0.0072, 0.0798), (0.3946, 0.4682), (0.7345, 0.8081)]
COL_TEXTO = [0.1022, 0.4906, 0.8247]
FILAS = [0.9432, 0.8801]
POSICION = {"qs": (0, 0), "1e-4": (0, 1), "1e-3": (1, 0), "1e-2": (1, 1),
            "1e-1": (2, 0), "1e0": (2, 1)}
for clave in ORDEN:
    c, f = POSICION[clave]
    fig.add_shape(type="line", xref="x domain", yref="y domain",
                  x0=COL_LINEA[c][0], x1=COL_LINEA[c][1], y0=FILAS[f], y1=FILAS[f],
                  line=dict(color=COLORES[clave], width=21))
    fig.add_annotation(x=COL_TEXTO[c], y=FILAS[f], xref="x domain", yref="y domain",
                       text=ETIQUETAS[clave], showarrow=False, xanchor="left",
                       yanchor="middle", font=dict(family=FUENTE, size=78, color="black"))

fig.write_html("out.html")
